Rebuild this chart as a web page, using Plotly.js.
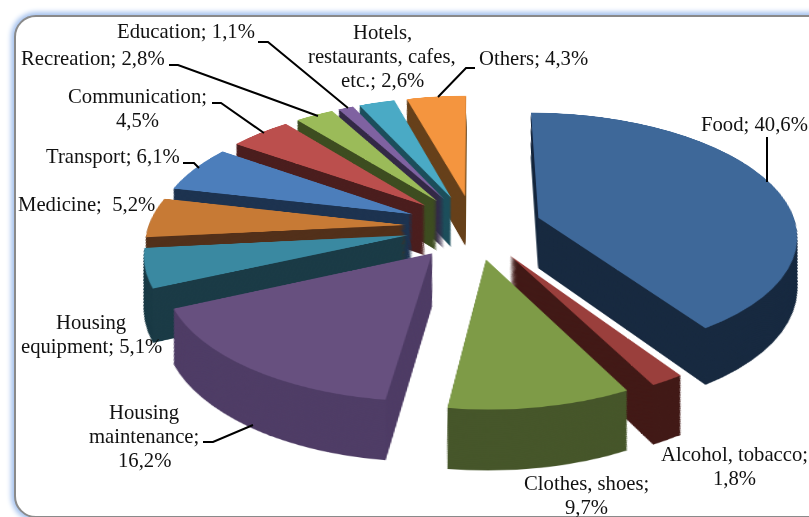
<!DOCTYPE html>
<html>
<head>
<meta charset="utf-8">
<script src="https://cdn.plot.ly/plotly-3.0.1.min.js"></script>
<style>
html,body{margin:0;padding:0;background:#fff;}
#stage{position:relative;width:809px;height:517px;overflow:hidden;background:#fff;}
#frame{position:absolute;left:14px;top:15px;width:900px;height:503px;border:2px solid #8a8a8a;border-radius:22px;box-shadow:0 0 5px 3px #a5c2ee;background:#fff;box-sizing:border-box;}
#pie{position:absolute;left:-26px;top:-173px;width:1000px;height:1000px;}
#labels{position:absolute;left:0;top:0;width:809px;height:517px;}
</style>
</head>
<body>
<div id="stage">
  <div id="frame"></div>
  <div id="pie"></div>
  <div id="labels"></div>
</div>
<script>
// Data
var categories = ['Food','Alcohol, tobacco','Clothes, shoes','Housing maintenance','Housing equipment','Medicine','Transport','Communication','Recreation','Education','Hotels, restaurants, cafes, etc.','Others'];
var shares = [40.6,1.8,9.7,16.2,5.1,5.2,6.1,4.5,2.8,1.1,2.6,4.3];
var topColors = ['#3E6899','#9A3F3C','#7E9B47','#67507F','#3A89A1','#C77A35','#4C7EBB','#BB4F4D','#9BBB59','#7F62A1','#4AAAC5','#F4953F'];
var sideColors = ['#182A40','#421A17','#46562A','#4F3D66','#1B3B46','#52301A','#1D3350','#4B1E1E','#3E4D21','#342A47','#1D4F5C','#67401B'];
var labelLines = [['Food; 40,6%'],['Alcohol, tobacco;','1,8%'],['Clothes, shoes;','9,7%'],['Housing','maintenance;','16,2%'],['Housing','equipment; 5,1%'],['Medicine;  5,2%'],['Transport; 6,1%'],['Communication;','4,5%'],['Recreation; 2,8%'],['Education; 1,1%'],['Hotels,','restaurants, cafes,','etc.; 2,6%'],['Others; 4,3%']];
var labelX = [754,734,586,144,91,86,113,137,93,186,382,533];
var labelY = [124,454,483,412,322,204,156,96,58,31,32,58];
var leaderLines = [
  [[767,137],[767,182]],
  [[203,442],[213,442],[253,425]],
  [[183,163],[194,163],[199,168]],
  [[212,103],[221,103],[264,133]],
  [[169,65],[178,65],[318,116]],
  [[258,42],[268,42],[348,108]],
  [[438,97],[466,68],[475,68]]
];

// Extruded pie: stack of pie traces, darkest at the bottom
var layers = 56, depthPx = 103, figSize = 1000, centreY = 400, domainPx = 652, pull = 0.2636;
var tilt = 62, focal = 1750, shrink = Math.sin(tilt * Math.PI / 180) / focal;
var traces = [];
for (var i = layers; i >= 0; i--) {
  var shift = depthPx * i / layers;
  var cy = centreY + shift;
  var half = domainPx / 2 * (1 - shift * shrink);
  traces.push({
    type: 'pie', values: shares, labels: categories, sort: false, direction: 'clockwise', rotation: 0,
    pull: pull, textinfo: 'none', hoverinfo: 'skip', showlegend: false,
    marker: {colors: i === 0 ? topColors : sideColors, line: {width: 0}},
    domain: {
      x: [0.5 - half / figSize, 0.5 + half / figSize],
      y: [1 - (cy + half) / figSize, 1 - (cy - half) / figSize]
    }
  });
}
Plotly.newPlot('pie', traces, {
  width: figSize, height: figSize, margin: {l: 0, r: 0, t: 0, b: 0},
  paper_bgcolor: 'rgba(0,0,0,0)', plot_bgcolor: 'rgba(0,0,0,0)', showlegend: false
}, {displayModeBar: false, staticPlot: true}).then(function (gd) {
  var svg = gd.querySelector('.main-svg');
  svg.style.transformOrigin = '500px 400px';
  svg.style.transform = 'perspective(' + focal + 'px) rotateX(' + tilt + 'deg)';
});

// Labels and leader lines
var annotations = [];
labelLines.forEach(function (lines, k) {
  lines.forEach(function (t, n) {
    annotations.push({text: t, x: labelX[k], y: labelY[k] + n * 24, xref: 'x', yref: 'y', showarrow: false,
      xanchor: 'center', yanchor: 'middle', font: {family: '"Liberation Serif", serif', size: 20.7, color: '#111'}});
  });
});
var shapes = leaderLines.map(function (pts) {
  return {type: 'path', xref: 'x', yref: 'y', line: {color: '#000', width: 2},
    path: pts.map(function (p, n) { return (n ? 'L' : 'M') + p[0] + ',' + p[1]; }).join(' ')};
});
Plotly.newPlot('labels', [], {
  width: 809, height: 517, margin: {l: 0, r: 0, t: 0, b: 0},
  paper_bgcolor: 'rgba(0,0,0,0)', plot_bgcolor: 'rgba(0,0,0,0)', showlegend: false,
  xaxis: {range: [0, 809], visible: false, fixedrange: true},
  yaxis: {range: [517, 0], visible: false, fixedrange: true},
  annotations: annotations, shapes: shapes
}, {displayModeBar: false, staticPlot: true});
</script>
</body>
</html>
